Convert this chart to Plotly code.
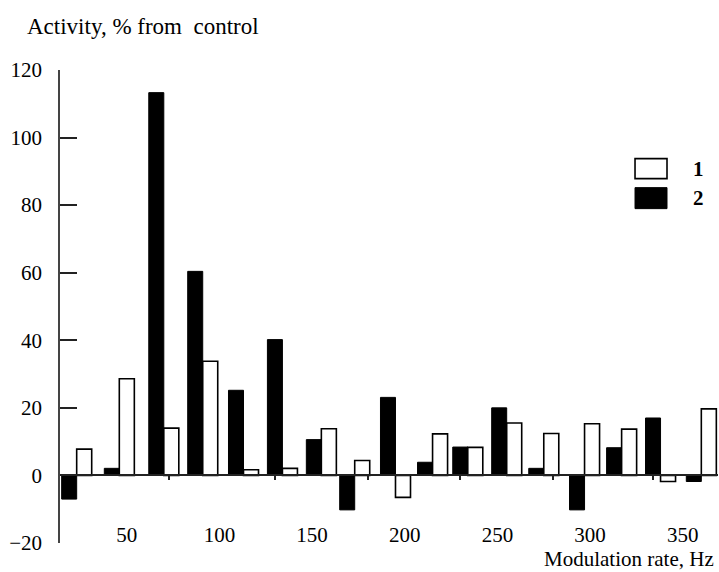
import plotly.graph_objects as go

# Modulation rates of the tested stimuli (Hz)
rates_hz = [23, 46, 70, 91, 113, 134, 155, 173, 195, 215, 234, 255, 275, 297, 317, 338, 360]

# Activity, % from control
series_1 = [7.8, 28.6, 14.0, 33.8, 1.7, 2.1, 13.8, 4.4, -6.5, 12.3, 8.3, 15.5, 12.4, 15.3, 13.7, -1.8, 19.7]
series_2 = [-7.0, 2.1, 113.3, 60.4, 25.2, 40.2, 10.6, -10.2, 23.1, 3.9, 8.4, 20.0, 2.1, -10.2, 8.2, 17.0, -1.8]

x_tick_vals = [50, 100, 150, 200, 250, 300, 350]
zero_tick_vals = [73, 130, 180, 230, 280, 334]
y_tick_vals = [-20, 0, 20, 40, 60, 80, 100, 120]

FONT = "Liberation Serif"
BAR_W = 8.1

fig = go.Figure()
fig.add_trace(go.Bar(
    x=rates_hz, y=series_2, name="2",
    width=BAR_W, offset=-BAR_W,
    marker=dict(color="black", line=dict(color="black", width=1)),
))
fig.add_trace(go.Bar(
    x=rates_hz, y=series_1, name="1",
    width=BAR_W, offset=0,
    marker=dict(color="white", line=dict(color="black", width=1.6)),
))
# empty trace carrying the zero-level axis
fig.add_trace(go.Scatter(x=[], y=[], xaxis="x2", showlegend=False))

x_range = [14, 369]

fig.update_layout(
    width=719, height=572,
    margin=dict(l=60, r=1, t=70, b=29),
    paper_bgcolor="white", plot_bgcolor="white",
    showlegend=False,
    barmode="overlay",
    font=dict(family=FONT, size=21, color="black"),
    xaxis=dict(
        range=x_range, tickvals=x_tick_vals,
        ticktext=[str(v) for v in x_tick_vals],
        showline=False, showgrid=False, zeroline=False, ticks="",
        ticklabelstandoff=-23,
        tickfont=dict(family=FONT, size=21),
    ),
    xaxis2=dict(
        range=x_range, overlaying="x", anchor="free",
        position=20 / 140, side="bottom",
        showline=True, linecolor="#222", linewidth=1.5,
        ticks="outside", ticklen=4, tickwidth=1.5, tickcolor="#222",
        tickvals=zero_tick_vals, showticklabels=False,
        showgrid=False, zeroline=False,
    ),
    yaxis=dict(
        range=[-20, 120], tickvals=y_tick_vals,
        showline=True, linecolor="#444", linewidth=1.5,
        ticks="inside", ticklen=17, tickwidth=1.5, tickcolor="#222",
        showgrid=False, zeroline=False,
        ticklabelstandoff=12,
        tickfont=dict(family=FONT, size=21),
    ),
)

# Axis captions
fig.add_annotation(
    text="Activity, % from&nbsp;&nbsp;control", xref="paper", yref="paper",
    x=-0.0525, y=1.092, xanchor="left", yanchor="middle", showarrow=False,
    font=dict(family=FONT, size=23),
)
fig.add_annotation(
    text="Modulation rate, Hz", xref="paper", yref="paper",
    x=0.9954, y=-0.0328, xanchor="right", yanchor="middle", showarrow=False,
    borderpad=0, font=dict(family=FONT, size=21),
)

# Key: open box = series 1, filled box = series 2
fig.add_shape(type="rect", xref="paper", yref="paper",
              x0=0.8739, x1=0.9225, y0=0.7704, y1=0.8127,
              fillcolor="white", line=dict(color="black", width=1.6))
fig.add_shape(type="rect", xref="paper", yref="paper",
              x0=0.8739, x1=0.9225, y0=0.7069, y1=0.7513,
              fillcolor="black", line=dict(color="black", width=1))
fig.add_annotation(text="<b>1</b>", xref="paper", yref="paper",
                   x=0.971, y=0.7915, xanchor="center", yanchor="middle",
                   showarrow=False, font=dict(family=FONT, size=21))
fig.add_annotation(text="<b>2</b>", xref="paper", yref="paper",
                   x=0.971, y=0.729, xanchor="center", yanchor="middle",
                   showarrow=False, font=dict(family=FONT, size=21))

fig.write_html("out.html")
